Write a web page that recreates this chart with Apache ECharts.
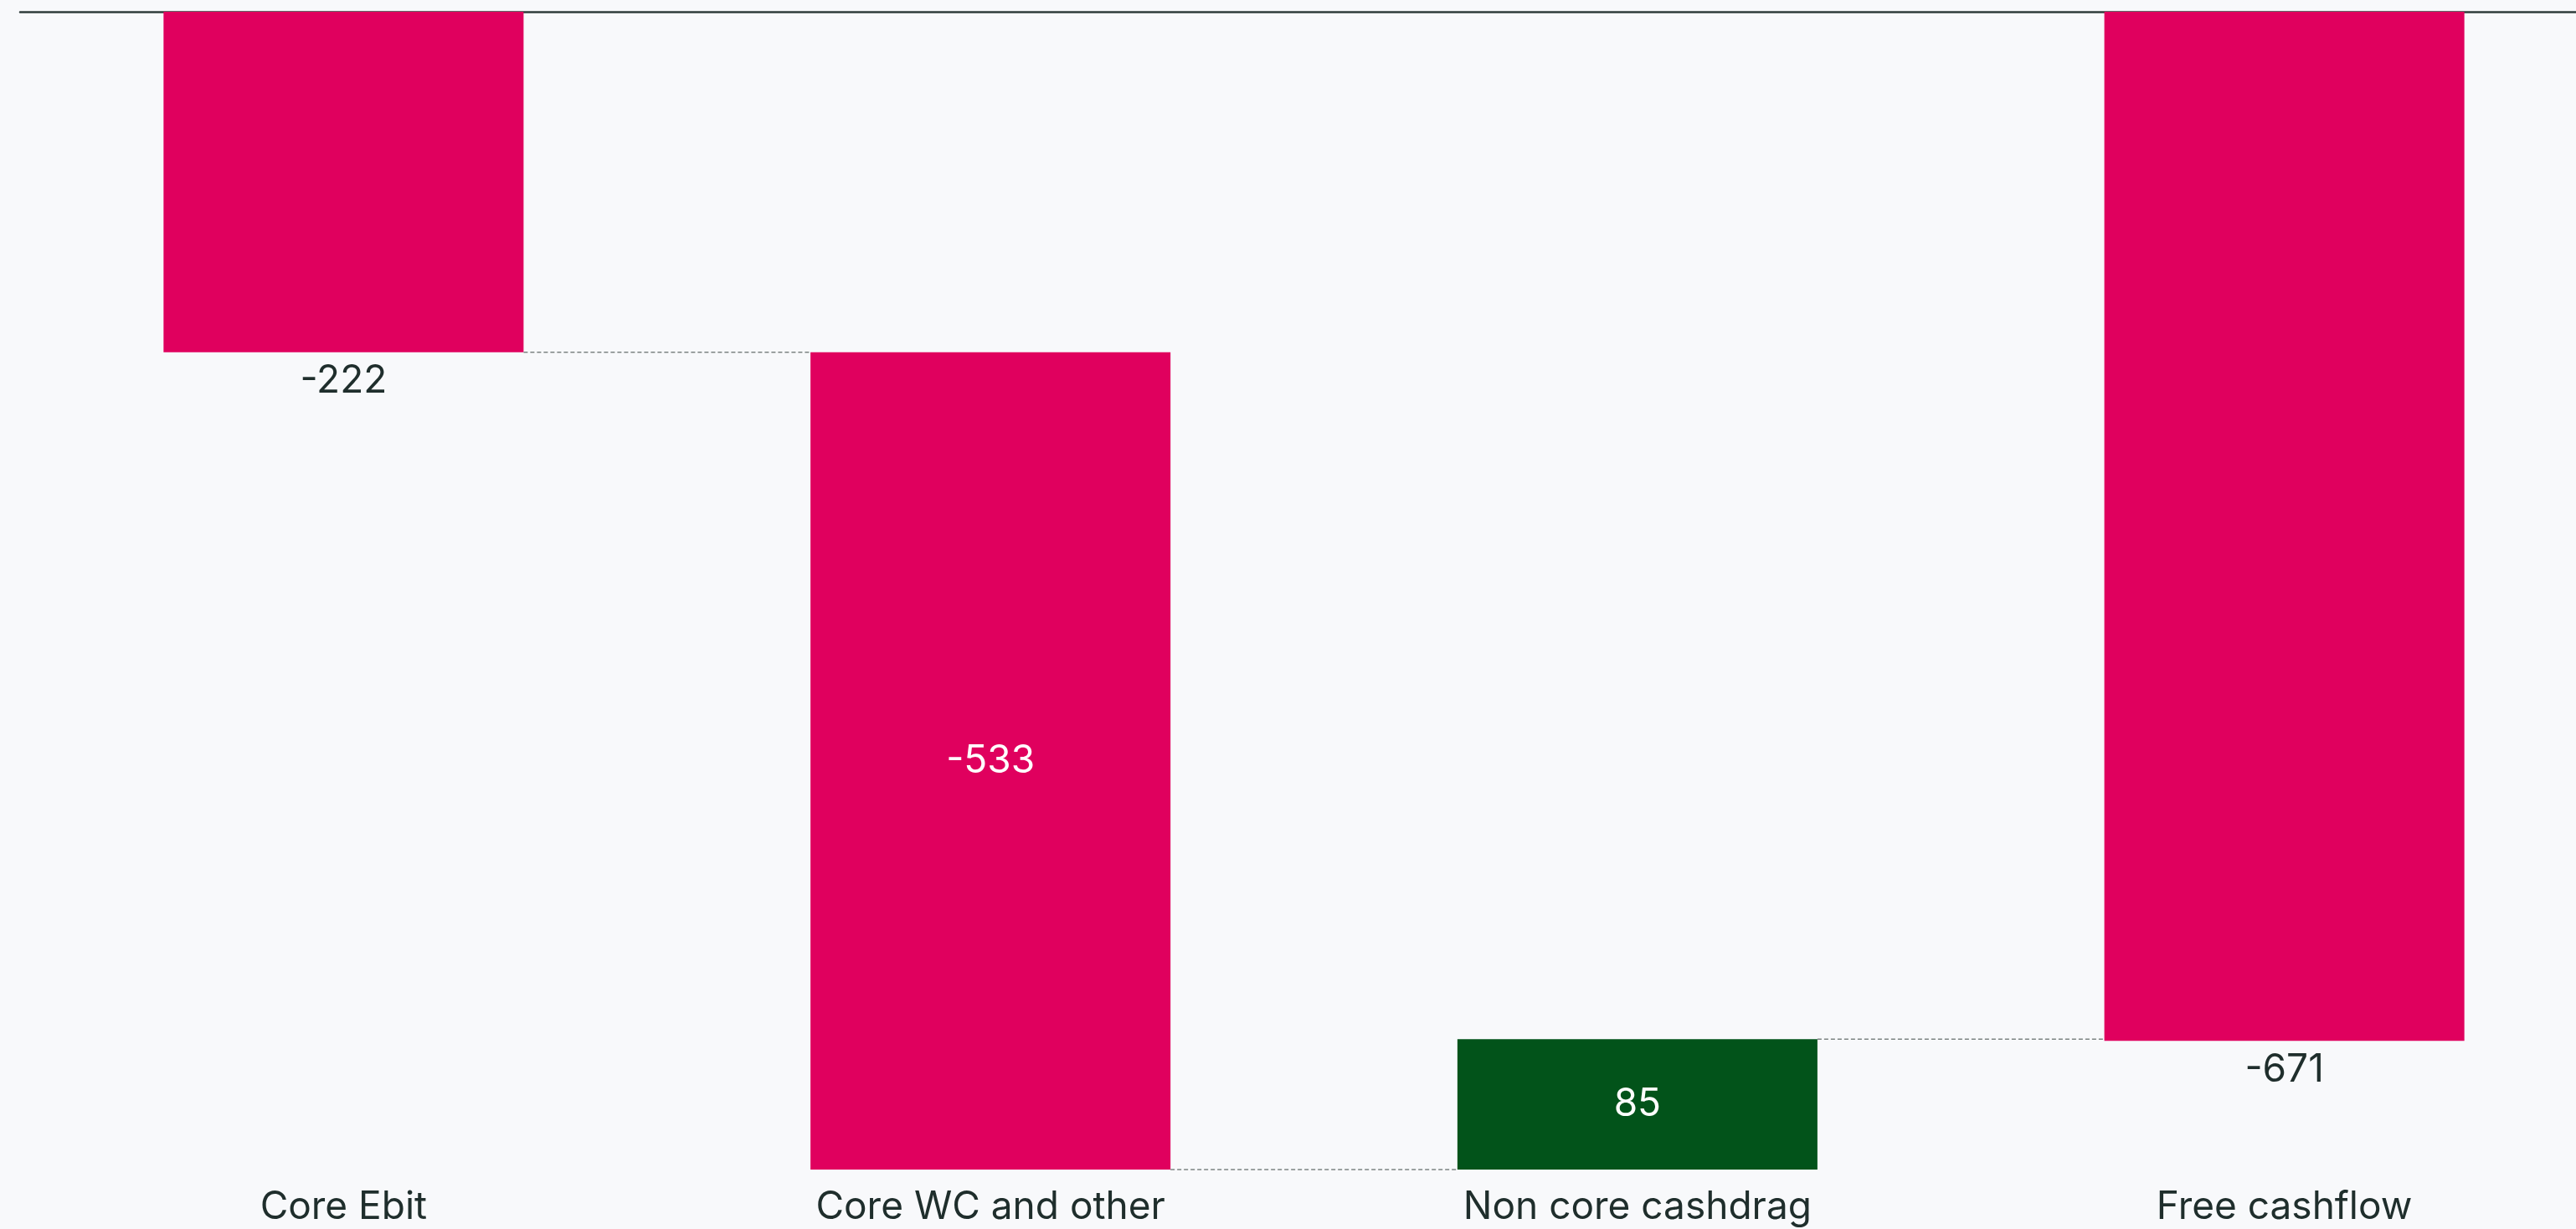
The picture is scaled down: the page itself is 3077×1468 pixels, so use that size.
<!DOCTYPE html>
<html>
<head>
<meta charset="utf-8">
<script src="https://cdn.jsdelivr.net/npm/echarts@6/dist/echarts.min.js"></script>
<style>
    html, body { margin: 0; padding: 0; background: #f8f9fb; overflow: hidden; }
    /* plot runs a little past the right edge of the page, like the original */
    #chart { width: 3115px; height: 1468px; }
</style>
</head>
<body>
<div id="chart"></div>
<script>
// waterfall steps
const categories = ['Core Ebit', 'Core WC and other', 'Non core cashdrag', 'Free cashflow'];
const values = [-222, -533, 85, -671];
const isTotal = [false, false, false, true];

const pink = '#e0005e';
const green = '#02531a';
const textDark = '#1f2e2c';
const barPct = 0.5565;

// running totals -> invisible base + visible part
let running = 0;
const baseData = [];
const visData = [];
const levels = []; // level after each step, for connectors
values.forEach((v, i) => {
    if (isTotal[i]) {
        baseData.push(0);
        visData.push(v);
        running = v;
    } else if (v < 0) {
        baseData.push(running);
        visData.push(v);
        running += v;
    } else {
        // rising step: bar spans from old level up to new level
        baseData.push(running + v);
        visData.push(-v);
        running += v;
    }
    levels.push(running);
});
const yMin = Math.min(0, ...baseData.map((b, i) => b + visData[i]));

let chart = echarts.init(document.getElementById('chart'));
let option = {
    backgroundColor: '#f8f9fb',
    animation: false,
    grid: { left: 24, right: 0, top: 14, bottom: 71 },
    xAxis: [
        {
            type: 'category',
            data: categories,
            position: 'bottom',
            axisLine: { show: false, onZero: false },
            axisTick: { show: false },
            axisLabel: { color: textDark, fontSize: 46, fontFamily: 'Inter', margin: 22 }
        },
        {
            type: 'category',
            data: categories,
            position: 'top',
            axisLine: { show: true, onZero: false, lineStyle: { color: '#2f3d3b', width: 2.5 } },
            axisTick: { show: false },
            axisLabel: { show: false }
        }
    ],
    yAxis: {
        type: 'value',
        max: 0,
        min: yMin,
        show: false,
        splitLine: { show: false }
    },
    series: [
        {
            type: 'bar',
            stack: 'wf',
            barWidth: (barPct * 100) + '%',
            itemStyle: { color: 'transparent' },
            data: baseData,
            silent: true
        },
        {
            type: 'bar',
            stack: 'wf',
            barWidth: (barPct * 100) + '%',
            data: visData.map((v, i) => {
                const inside = !isTotal[i] && i > 0;
                return {
                    value: v,
                    itemStyle: { color: values[i] >= 0 ? green : pink },
                    label: {
                        show: true,
                        position: inside ? 'inside' : 'bottom',
                        distance: 12,
                        color: inside ? '#ffffff' : textDark,
                        fontSize: 46,
                        fontFamily: 'Inter',
                        formatter: String(values[i])
                    }
                };
            })
        },
        {
            type: 'custom',
            silent: true,
            data: levels.slice(0, -1).map((l, i) => [i, l]),
            renderItem: function (params, api) {
                const i = api.value(0);
                const lvl = api.value(1);
                const band = api.size([1, 0])[0];
                const half = band * barPct / 2;
                const p1 = api.coord([i, lvl]);
                const p2 = api.coord([i + 1, lvl]);
                return {
                    type: 'line',
                    shape: { x1: p1[0] + half, y1: p1[1], x2: p2[0] - half, y2: p2[1] },
                    style: { stroke: '#7c8482', lineWidth: 1.5, lineDash: [5, 3] }
                };
            },
            z: 5
        }
    ]
};
chart.setOption(option, (window.onresize = chart.resize));
</script>
</body>
</html>
